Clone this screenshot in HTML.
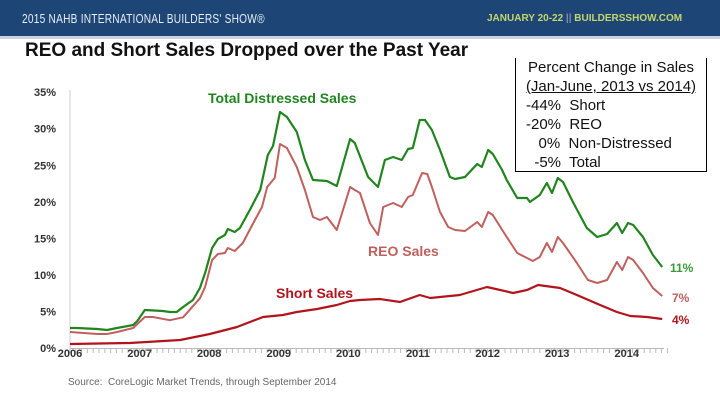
<!DOCTYPE html>
<html><head><meta charset="utf-8"><style>
body{margin:0;width:720px;height:405px;overflow:hidden;background:#fff;font-family:"Liberation Sans",sans-serif;position:relative}
.abs{position:absolute;white-space:nowrap}
</style></head><body>
<div class="abs" style="left:0;top:0;width:720px;height:36px;background:#1d4677"></div>
<div class="abs" style="left:0;top:36px;width:720px;height:3px;background:#c9d3df"></div>
<div class="abs" style="left:22px;top:11px;color:#e8edf3;font-size:13px;transform:scaleX(0.78);transform-origin:left;letter-spacing:0.3px">2015 NAHB INTERNATIONAL BUILDERS' SHOW®</div>
<div class="abs" style="left:487px;top:13px;color:#c3d66a;font-size:10px;font-weight:bold">JANUARY 20-22 <span style="color:#7f94a8">||</span> BUILDERSSHOW.COM</div>
<div class="abs" style="left:25px;top:40px;font-size:19px;font-weight:bold;color:#111">REO and Short Sales Dropped over the Past Year</div>
<div class="abs" style="left:515px;top:58px;width:190px;height:113px;border:1px solid #000;border-top:none;background:#fff;font-size:15px;line-height:19px;color:#111">
<div style="text-align:center;margin-top:0px">Percent Change in Sales</div>
<div style="text-align:center;text-decoration:underline">(Jan-June, 2013 vs 2014)</div>
<div style="padding-left:10px">-44%&nbsp; Short</div>
<div style="padding-left:10px">-20%&nbsp; REO</div>
<div style="padding-left:10px">&nbsp;&nbsp;&nbsp;0%&nbsp; Non-Distressed</div>
<div style="padding-left:10px">&nbsp;&nbsp;-5%&nbsp; Total</div>
</div>
<svg id="chart" class="abs" style="left:0;top:0" width="720" height="405"></svg>
<div class="abs" style="left:68px;top:377px;font-size:10px;color:#666">Source:&nbsp; CoreLogic Market Trends, through September 2014</div>
<script>
const yTicks=[0,5,10,15,20,25,30,35];
const yearLabels=["2006","2007","2008","2009","2010","2011","2012","2013","2014"];
const totalMonths=[0,1.2,4.7,6.4,8.1,10.9,11.6,12.9,16,17.2,18.4,19.5,21.2,22.4,23.3,24.5,25.5,26.7,27.2,28.4,29.3,31,32.8,34.1,35,36.2,37.4,39.1,40.5,41.9,44.3,46,48.3,49.1,51.4,53.1,54.3,55.7,57.2,58.3,59.1,60.3,61.2,62.4,63.8,65.5,66.4,68.1,70.2,71,72.1,72.9,74.5,75.3,77.1,78.8,79.3,81,82.2,83.1,84.1,85,86.7,89.1,90.9,92.6,94.3,95.2,96.2,97.1,98.8,100.5,102.1];
const totalValues=[2.74,2.74,2.6,2.46,2.74,3.15,3.69,5.2,5.06,4.92,4.92,5.61,6.57,8.21,10.26,13.68,14.91,15.46,16.28,15.87,16.42,18.88,21.61,26.4,27.63,32.28,31.6,29.55,25.72,22.98,22.85,22.16,28.59,28.04,23.39,22.02,25.72,26.13,25.72,27.22,27.36,31.19,31.19,29.82,27.09,23.39,23.12,23.39,25.17,24.76,27.09,26.54,24.35,22.98,20.52,20.52,19.97,20.93,22.57,21.2,23.26,22.71,19.97,16.42,15.18,15.6,17.1,15.73,17.1,16.83,15.18,12.72,11.08];
const reoMonths=[0,4.7,6.4,8.1,10.9,12.9,14.3,17.2,19.5,22.4,23.3,24.5,25.5,26.7,27.2,28.4,29.8,31.6,33.1,34,35.3,36.2,37.4,39.1,40.5,41.9,43.1,44.3,46,48.3,49.1,50,51.7,53.1,54,55.7,57.2,58.3,59.1,60.7,61.6,62.4,63.8,65.2,66.4,68.1,70.2,71,72.1,72.9,75.3,77.1,79.8,81,82.2,83.1,84.1,85,87.4,89.3,90.9,92.6,94.3,95.2,96.2,97.1,98.8,100.5,102.1];
const reoValues=[2.19,1.92,1.92,2.19,2.74,4.24,4.24,3.8,4.2,6.8,8.34,12.04,12.86,13,13.68,13.27,14.36,17.1,19.29,22.02,23.26,27.91,27.36,24.76,21.61,17.92,17.51,17.92,16.14,22.02,21.61,21.2,17.1,15.46,19.29,19.84,19.29,20.66,20.93,23.94,23.8,22.02,18.6,16.55,16.14,16.01,17.24,16.55,18.6,18.19,15.18,13,11.9,12.45,14.36,13.13,15.18,14.36,11.63,9.3,8.89,9.3,11.76,10.67,12.45,12.04,10.26,8.21,7.11];
const shortMonths=[0,10.3,19,24.1,28.8,33.3,36.7,39.1,42.6,46,48.3,50,53.4,56.9,60.3,62.1,63.8,67.2,71.9,76.4,78.8,80.7,84.5,87.4,91.4,94.3,96.6,99.5,102.1];
const shortValues=[0.55,0.68,1.09,1.92,2.87,4.24,4.51,4.92,5.34,5.88,6.43,6.57,6.7,6.29,7.25,6.84,6.98,7.25,8.34,7.52,7.93,8.62,8.21,7.25,5.88,4.92,4.38,4.24,3.97];
const endLabels=["11%","7%","4%"];
const svg=document.getElementById('chart');
const NS="http://www.w3.org/2000/svg";
const X0=70,MW=5.8,Y0=348,PY=7.31;
function xs(m){return X0+m*MW;}
function ys(v){return Y0-v*PY;}
function mk(t,a){const e=document.createElementNS(NS,t);for(const k in a)e.setAttribute(k,a[k]);svg.appendChild(e);return e;}
let e=mk('line',{x1:X0,y1:90,x2:X0,y2:Y0,stroke:'#ccc','stroke-width':1});


e=mk('line',{x1:X0,y1:Y0+0.5,x2:664,y2:Y0+0.5,stroke:'#bbb','stroke-width':1});


for(let m=0;m<=103;m++){
  e=mk('line',{x1:xs(m),y1:Y0,x2:xs(m),y2:Y0+5,stroke:'#bbb','stroke-width':1});
  
  
}
yTicks.forEach(v=>{
  e=mk('text',{x:56,y:ys(v)+4,'text-anchor':'end','font-size':11,'font-weight':'bold',fill:'#333','font-family':'Liberation Sans, sans-serif'});
  e.textContent=v+'%';
  
  
});
yearLabels.forEach((y,i)=>{
  e=mk('text',{x:xs(i*12),y:357,'text-anchor':'middle','font-size':11,'font-weight':'bold',fill:'#333','font-family':'Liberation Sans, sans-serif'});
  e.textContent=y;
  
  
});
function line(ms,vs,col,w,name){
  const d=ms.map((m,i)=>(i?'L':'M')+xs(m).toFixed(1)+','+ys(vs[i]).toFixed(1)).join('');
  const p=mk('path',{d:d,fill:'none',stroke:col,'stroke-width':w,'stroke-linejoin':'round'});
  
  
}
line(shortMonths,shortValues,'#b2141c',2.2,'short-sales-line');
line(reoMonths,reoValues,'#c0605e',2,'reo-sales-line');
line(totalMonths,totalValues,'#22841f',2.2,'total-distressed-line');
function lab(x,y,t,col,sz,name){
  const el=mk('text',{x:x,y:y,'font-size':sz,'font-weight':'bold',fill:col,'font-family':'Liberation Sans, sans-serif'});
  el.textContent=t;
  
  
}
lab(208,103,'Total Distressed Sales','#22841f',14,'total-series-label');
lab(368,256,'REO Sales','#c0605e',14,'reo-series-label');
lab(276,298,'Short Sales','#b2141c',14,'short-series-label');
const lastT=totalValues[totalValues.length-1],lastR=reoValues[reoValues.length-1],lastS=shortValues[shortValues.length-1];
lab(670,ys(lastT)+5,endLabels[0],'#3a9a3a',12,'total-end-label');
lab(672,ys(lastR)+6,endLabels[1],'#c0605e',12,'reo-end-label');
lab(672,ys(lastS)+5,endLabels[2],'#b2141c',12,'short-end-label');
</script>
</body></html>
